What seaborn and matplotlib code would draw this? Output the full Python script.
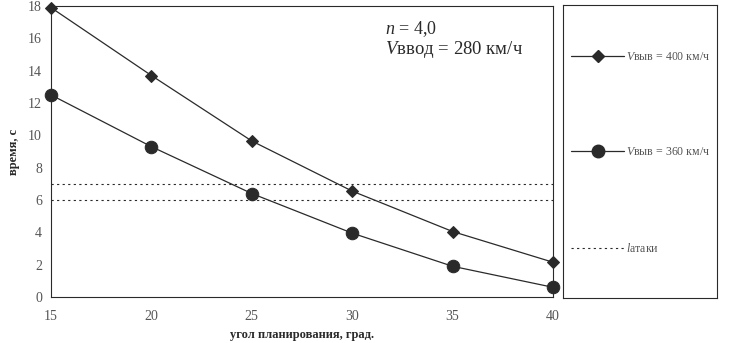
import matplotlib
matplotlib.use("Agg")
import matplotlib.pyplot as plt
import seaborn as sns
import pandas as pd
from matplotlib.lines import Line2D

angles = [15, 20, 25, 30, 35, 40]
t_400 = [17.9, 13.7, 9.65, 6.55, 4.05, 2.15]
t_360 = [12.5, 9.3, 6.4, 3.95, 1.9, 0.6]
attack_levels = [7.0, 6.0]
x_ticks = [15, 20, 25, 30, 35, 40]
y_ticks = [0, 2, 4, 6, 8, 10, 12, 14, 16, 18]

sns.set_theme(style="white")
plt.rcParams['font.family'] = ['Liberation Serif', 'DejaVu Serif']
plt.rcParams['mathtext.fontset'] = 'custom'
plt.rcParams['mathtext.rm'] = 'Liberation Serif'
plt.rcParams['mathtext.it'] = 'Liberation Serif:italic'

dark = '#2a2a2a'
grey = '#555555'

fig = plt.figure(figsize=(7.38, 3.43), dpi=100)
ax = fig.add_axes([51/738, 1-297/343, 502/738, 291/343])

df400 = pd.DataFrame({'x': angles, 'y': t_400})
df360 = pd.DataFrame({'x': angles, 'y': t_360})
sns.lineplot(data=df400, x='x', y='y', ax=ax, color=dark, lw=0.9, marker='D',
             markersize=6, markeredgecolor=dark, clip_on=False)
sns.lineplot(data=df360, x='x', y='y', ax=ax, color=dark, lw=0.9, marker='o',
             markersize=9, markeredgecolor=dark, clip_on=False)
for lv in attack_levels:
    ax.axhline(lv, color=dark, lw=0.8, ls=(0, (2, 3)))

ax.set_xlim(15, 40)
ax.set_ylim(0, 18)
ax.set_xticks(x_ticks)
ax.set_yticks(y_ticks)
ax.tick_params(direction='inout', length=7, width=0.8, colors=dark,
               labelcolor=grey, labelsize=10)
ax.tick_params(axis='x', pad=6)
ax.tick_params(axis='y', pad=3)
for s in ax.spines.values():
    s.set_color(dark)
    s.set_linewidth(0.8)
ax.set_xlabel('угол планирования, град.', fontsize=9, fontweight='bold',
              color=dark, labelpad=4)
ax.set_ylabel('время, с', fontsize=9, fontweight='bold', color=dark, labelpad=6)

ax.text(0.665, 0.905, r'$n$ = 4,0', transform=ax.transAxes, fontsize=13,
        color=dark, va='baseline')
ax.text(0.665, 0.835, r'$V$ввод = 280 км/ч',
        transform=ax.transAxes, fontsize=13.5, color=dark, va='baseline')

lax = fig.add_axes([563/738, 1-298/343, 154/738, 293/343])
lax.set_xticks([])
lax.set_yticks([])
for s in lax.spines.values():
    s.set_color(dark)
    s.set_linewidth(0.8)
handles = [
    Line2D([], [], color=dark, lw=0.9, marker='D', markersize=6),
    Line2D([], [], color=dark, lw=0.9, marker='o', markersize=9),
    Line2D([], [], color=dark, lw=0.8, ls=(0, (2, 3))),
]
labels = [r'$V$выв = 400 км/ч',
          r'$V$выв = 360 км/ч',
          r'$l$атаки']
leg = lax.legend(handles, labels, loc='center left', bbox_to_anchor=(0.0, 0.495),
                 frameon=False, fontsize=8.6, handlelength=4.4, handletextpad=0.2,
                 labelspacing=7.0, borderaxespad=0.3, labelcolor=grey)

fig.savefig('out.png', dpi=100)
